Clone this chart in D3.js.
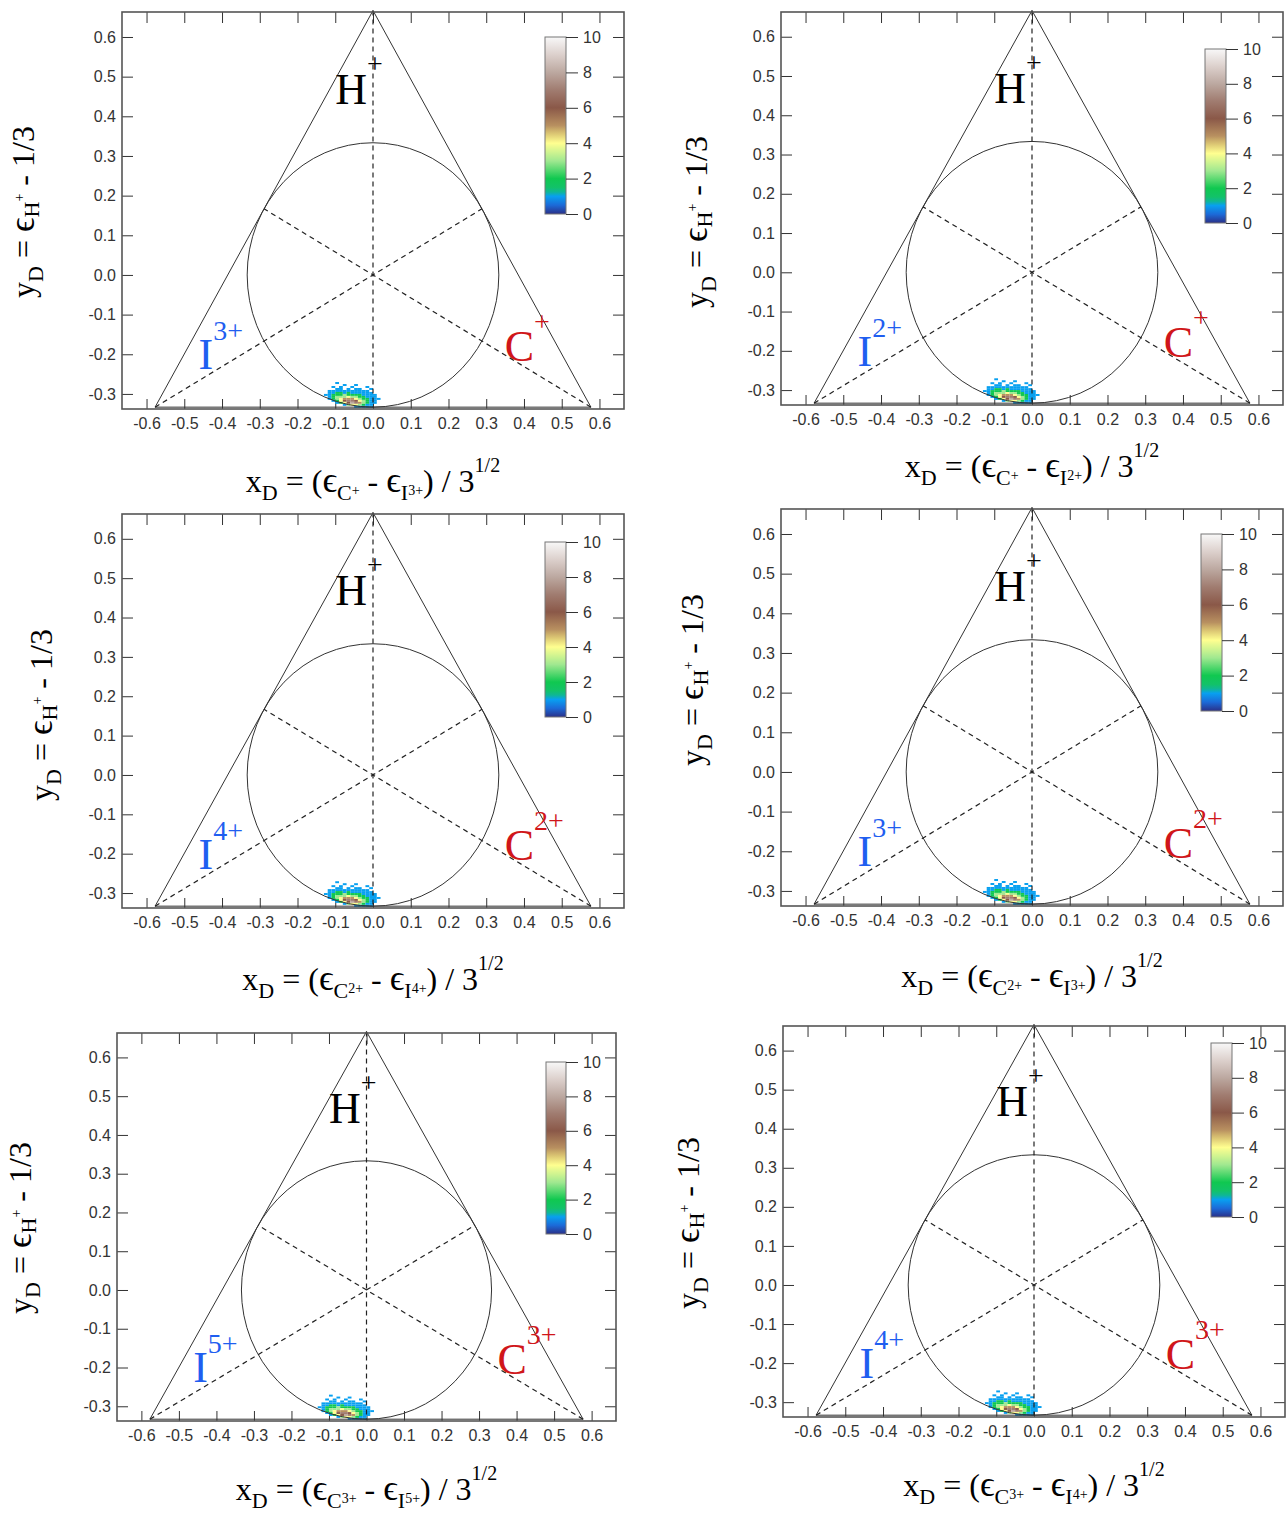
<!DOCTYPE html>
<html><head><meta charset="utf-8">
<script src="https://cdn.jsdelivr.net/npm/d3@7"></script>
<style>body{margin:0;background:#fff} text{white-space:pre}</style>
</head><body>
<svg id="c" width="1287" height="1517"></svg>
<script>
// ---------------- data ----------------
const xTickValues = [-0.6,-0.5,-0.4,-0.3,-0.2,-0.1,0.0,0.1,0.2,0.3,0.4,0.5,0.6];
const yTickValues = [-0.3,-0.2,-0.1,0.0,0.1,0.2,0.3,0.4,0.5,0.6];
const cbTickValues = [0,2,4,6,8,10];
const iCharges = ["3+","2+","4+","3+","5+","4+"];
const cCharges = ["+","+","2+","2+","3+","3+"];
const hCharge = "+";
// 2D histogram of events (bin left edges in x, bin top edges in y)
const blobX = [-0.13,-0.12,-0.11,-0.10,-0.09,-0.08,-0.07,-0.06,-0.05,-0.04,-0.03,-0.02,-0.01,0.00,0.01];
const blobY = [-0.270,-0.275,-0.280,-0.285,-0.290,-0.295,-0.300,-0.305,-0.310,-0.315,-0.320,-0.325,-0.330];
const blobCounts = [
  [0,0,0,1,0,0,0,0,0,0,0,0,0,0,0],
  [0,0,0,0,0,1,0,0,1,0,0,0,0,0,0],
  [0,0,1,0,1,0,0,1,0,0,0,1,0,0,0],
  [0,0,0,1,1,0,1,0,1,1,0,0,1,0,0],
  [0,1,1,1,1,1,1,1,1,1,1,1,0,0,0],
  [0,1,1,2,2,1,2,1,1,1,1,1,1,0,0],
  [1,1,2,2,2,3,2,2,2,2,1,1,1,1,0],
  [0,1,2,3,3,3,4,3,3,2,2,1,1,1,0],
  [0,1,2,3,4,5,5,5,4,3,2,2,1,1,1],
  [0,0,1,2,4,6,7,7,6,4,3,2,1,1,0],
  [0,0,0,1,2,4,6,8,7,5,3,2,1,1,0],
  [0,0,0,0,0,1,3,4,4,3,2,1,1,0,0],
  [0,0,0,0,0,0,0,0,1,1,1,1,1,0,0]
];
const blobDX = 0.01, blobDY = 0.005;
const colorStops = [0,0.5,1,1.35,2,3,4,4.6,5,6,7,8,9,10];
const colorHex = ["#2a3088","#1c6ad8","#08a0f0","#12c070","#10c850","#a0e890","#ffff90","#d8c070","#b89060","#8a5848","#a07c70","#bca8a0","#dcd0cc","#f8f8f8"];

// ---------------- layout ----------------
const layout = [
  {l:122,r:624,t:12,b:409,  cb:{x:545,w:21,t:37,b:214},    xt:492,  yt:{x:34,y:212}},
  {l:781,r:1283,t:12,b:405, cb:{x:1205,w:21,t:49,b:223},   xt:477,  yt:{x:707,y:222}},
  {l:122,r:624,t:514,b:908, cb:{x:545,w:21,t:542,b:717},   xt:990,  yt:{x:52,y:715}},
  {l:781,r:1283,t:509,b:906,cb:{x:1201,w:21,t:534,b:711},  xt:987,  yt:{x:703,y:680}},
  {l:117,r:616,t:1033,b:1421,cb:{x:546,w:20,t:1062,b:1234},xt:1500, yt:{x:31,y:1228}},
  {l:783,r:1285,t:1026,b:1417,cb:{x:1211,w:21,t:1043,b:1217},xt:1496,yt:{x:699,y:1223}}
];
const serif = "'Liberation Serif','Times New Roman','DejaVu Serif',serif";
const sans = "'Liberation Sans',Arial,sans-serif";

const svg = d3.select("#c");
const color = d3.scaleLinear().domain(colorStops).range(colorHex).clamp(true);

// shared gradient for colorbar
const defs = svg.append("defs");
const grad = defs.append("linearGradient").attr("id","cbgrad")
  .attr("x1",0).attr("y1",1).attr("x2",0).attr("y2",0);
d3.range(0,10.01,0.25).forEach(v=>{
  grad.append("stop").attr("offset",v/10).attr("stop-color",color(v));
});

function rich(sel, x, y, parts, anchor) {
  const t = sel.append("text").attr("x",x).attr("y",y)
    .attr("font-family",serif).attr("text-anchor",anchor||"start");
  let cur = 0;
  parts.forEach(p=>{
    const o = p.o||0;
    const ts = t.append("tspan").attr("dy",o-cur).attr("font-size",p.s).text(p.t);
    if (p.f) ts.attr("font-family",p.f);
    if (p.c) ts.attr("fill",p.c);
    cur = o;
  });
  return t;
}

const S3 = 1/Math.sqrt(3);
const vertices = [[0,2/3],[-S3,-1/3],[S3,-1/3]];
const medians = [[[0,2/3],[0,-1/3]],[[-S3,-1/3],[S3/2,1/6]],[[S3,-1/3],[-S3/2,1/6]]];
const eps = "\u03F5";

layout.forEach((L,i)=>{
  const g = svg.append("g");
  const x = d3.scaleLinear().domain([-0.665,0.665]).range([L.l,L.r]);
  const y = d3.scaleLinear().domain([-0.338,0.663]).range([L.b,L.t]);
  const fmt = d=>d.toFixed(1);

  // axes (inward ticks)
  const ax = [
    g.append("g").attr("transform",`translate(0,${L.b})`).call(d3.axisBottom(x).tickValues(xTickValues).tickSize(-10).tickPadding(9).tickFormat(fmt)),
    g.append("g").attr("transform",`translate(0,${L.t})`).call(d3.axisTop(x).tickValues(xTickValues).tickSize(-11).tickFormat("")),
    g.append("g").attr("transform",`translate(${L.l},0)`).call(d3.axisLeft(y).tickValues(yTickValues).tickSize(-11).tickPadding(6).tickFormat(fmt)),
    g.append("g").attr("transform",`translate(${L.r},0)`).call(d3.axisRight(y).tickValues(yTickValues).tickSize(-11).tickFormat(""))
  ];
  ax.forEach(a=>{
    a.select(".domain").remove();
    a.selectAll("line").attr("stroke","#333").attr("stroke-width",1);
    a.selectAll("text").attr("font-family",sans).attr("font-size",16).attr("fill","#333");
  });

  // density blob
  const cells = [];
  blobCounts.forEach((row,ri)=>row.forEach((v,ci)=>{ if(v>0) cells.push({x0:blobX[ci],y0:blobY[ri],v}); }));
  g.append("g").selectAll("rect").data(cells).join("rect")
    .attr("x",d=>x(d.x0)).attr("y",d=>y(d.y0))
    .attr("width",d=>x(d.x0+blobDX)-x(d.x0)).attr("height",d=>y(d.y0-blobDY)-y(d.y0))
    .attr("fill",d=>color(d.v));

  // triangle
  g.append("path").attr("d",d3.line().x(d=>x(d[0])).y(d=>y(d[1]))(vertices)+"Z")
    .attr("fill","none").attr("stroke","#333").attr("stroke-width",1);
  // inscribed circle
  g.append("ellipse").attr("cx",x(0)).attr("cy",y(0))
    .attr("rx",x(1/3)-x(0)).attr("ry",y(0)-y(1/3))
    .attr("fill","none").attr("stroke","#333").attr("stroke-width",1);
  // medians (dashed)
  medians.forEach(m=>{
    g.append("line").attr("x1",x(m[0][0])).attr("y1",y(m[0][1])).attr("x2",x(m[1][0])).attr("y2",y(m[1][1]))
      .attr("stroke","#222").attr("stroke-width",1.2).attr("stroke-dasharray","5,4");
  });

  // frame
  g.append("rect").attr("x",L.l).attr("y",L.t).attr("width",L.r-L.l).attr("height",L.b-L.t)
    .attr("fill","none").attr("stroke","#555").attr("stroke-width",1.6);

  // vertex labels
  rich(g, x(-0.10), y(0.432), [{t:"H",s:44},{t:hCharge,s:28,o:-31}]);
  rich(g, x(-0.462), y(-0.238), [{t:"I",s:44,c:"#1f5ef0"},{t:iCharges[i],s:28,o:-29,c:"#1f5ef0"}]);
  rich(g, x(0.349), y(-0.216), [{t:"C",s:44,c:"#d0161a"},{t:cCharges[i],s:28,o:-30,c:"#d0161a"}]);

  // colorbar
  const cb = L.cb;
  const cy = d3.scaleLinear().domain([0,10]).range([cb.b,cb.t]);
  g.append("rect").attr("x",cb.x).attr("y",cb.t).attr("width",cb.w).attr("height",cb.b-cb.t)
    .attr("fill","url(#cbgrad)").attr("stroke","#777").attr("stroke-width",1);
  const cax = g.append("g").attr("transform",`translate(${cb.x+cb.w},0)`)
    .call(d3.axisRight(cy).tickValues(cbTickValues).tickSize(12).tickPadding(5).tickFormat(d=>String(d)));
  cax.select(".domain").remove();
  cax.selectAll("line").attr("stroke","#333");
  cax.selectAll("text").attr("font-family",sans).attr("font-size",16).attr("fill","#333");

  // x axis title
  rich(g, x(0), L.xt, [
    {t:"x",s:32},{t:"D",s:22,o:8},{t:" = (",s:32},{t:eps,s:36},{t:"C",s:22,o:8},{t:cCharges[i],s:14,o:3},
    {t:" - ",s:32},{t:eps,s:36},{t:"I",s:22,o:8},{t:iCharges[i],s:14,o:3},{t:") / 3",s:32},{t:"1/2",s:20,o:-20}
  ], "middle");

  // y axis title
  rich(g, 0, 0, [
    {t:"y",s:32},{t:"D",s:22,o:9},{t:" = ",s:32},{t:eps,s:36},{t:"H",s:22,o:5},{t:hCharge,s:14,o:-10},{t:" - 1/3",s:32}
  ], "middle").attr("transform",`translate(${L.yt.x},${L.yt.y}) rotate(-90)`);
});
</script>
</body></html>
